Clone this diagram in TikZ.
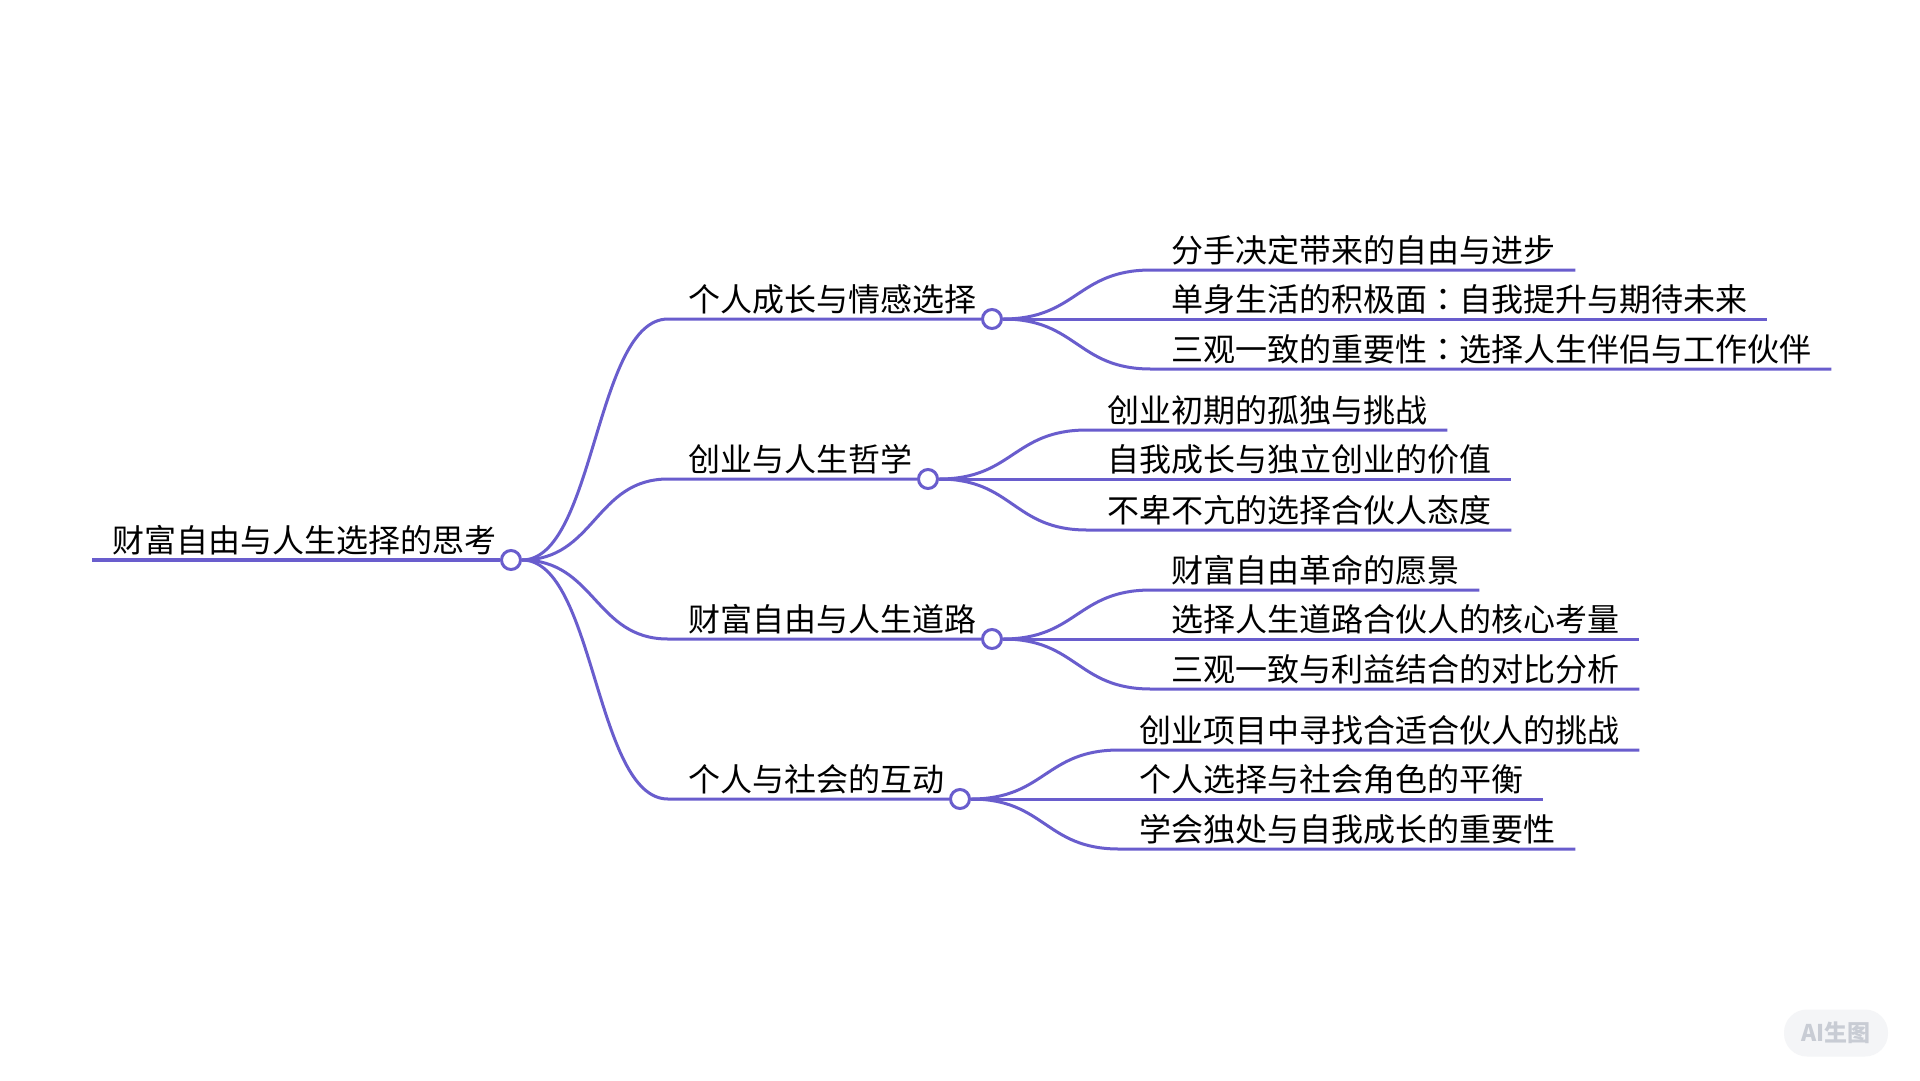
\documentclass[tikz,border=0pt]{standalone}
\usepackage{fontspec}
\setmainfont{Noto Sans CJK SC}
\newfontfamily\tcfont{Noto Sans CJK TC}
\newcommand{\midcolon}{{\tcfont ：}}
\definecolor{mapline}{RGB}{105, 93, 205}
\definecolor{marktext}{RGB}{200, 204, 212}
\definecolor{markfill}{RGB}{244, 245, 247}

\begin{document}
\begin{tikzpicture}[x=1pt, y=-1pt,
        topic/.style    = {anchor=base west, inner xsep=20pt, inner ysep=0pt, yshift=8pt, font=\fontsize{32}{38}\selectfont},
        knob/.style     = {circle, draw=mapline, fill=white, line width=3pt, minimum size=19pt, inner sep=0pt},
        trunk/.style    = {draw=mapline, line width=4pt},
        branch/.style   = {draw=mapline, line width=3pt},
        badgebox/.style = {fill=markfill, text=marktext, rounded corners=23pt, minimum width=104pt, minimum height=47pt, font=\bfseries\fontsize{23}{28}\selectfont}]
    \fill[white] (0,0) rectangle (1920,1080);
    \useasboundingbox (0,0) rectangle (1920,1080);

    % centre
    \coordinate (r0) at (92,560);
    \draw[trunk]  (r0) -- (500,560);
    \node[knob]   (root) at (511,560) {};
    \node[topic]  (roott) at (r0) {财富自由与人生选择的思考};

    % first level
    \coordinate (a0) at (668,319);
    \coordinate (b0) at (668,479);
    \coordinate (c0) at (668,639);
    \coordinate (d0) at (668,799);
    \node[knob]   (a) at (992,319) {};
    \node[knob]   (b) at (928,479) {};
    \node[knob]   (c) at (992,639) {};
    \node[knob]   (d) at (960,799) {};
    \draw[branch] (root.east) .. controls +(73,0) and +(-73,0) .. (a0) -- (a);
    \draw[branch] (root.east) .. controls +(73,0) and +(-73,0) .. (b0) -- (b);
    \draw[branch] (root.east) .. controls +(73,0) and +(-73,0) .. (c0) -- (c);
    \draw[branch] (root.east) .. controls +(73,0) and +(-73,0) .. (d0) -- (d);
    \node[topic]  (at) at (a0) {个人成长与情感选择};
    \node[topic]  (bt) at (b0) {创业与人生哲学};
    \node[topic]  (ct) at (c0) {财富自由与人生道路};
    \node[topic]  (dt) at (d0) {个人与社会的互动};

    % second level
    \coordinate (a1) at (1151,270);  \coordinate (a2) at (1151,319);  \coordinate (a3) at (1151,369);
    \coordinate (b1) at (1087,430);  \coordinate (b2) at (1087,479);  \coordinate (b3) at (1087,530);
    \coordinate (c1) at (1151,590);  \coordinate (c2) at (1151,639);  \coordinate (c3) at (1151,689);
    \coordinate (d1) at (1119,750);  \coordinate (d2) at (1119,799);  \coordinate (d3) at (1119,849);

    \node[topic]  (a1t) at (a1) {分手决定带来的自由与进步};
    \node[topic]  (a2t) at (a2) {单身生活的积极面\midcolon 自我提升与期待未来};
    \node[topic]  (a3t) at (a3) {三观一致的重要性\midcolon 选择人生伴侣与工作伙伴};
    \node[topic]  (b1t) at (b1) {创业初期的孤独与挑战};
    \node[topic]  (b2t) at (b2) {自我成长与独立创业的价值};
    \node[topic]  (b3t) at (b3) {不卑不亢的选择合伙人态度};
    \node[topic]  (c1t) at (c1) {财富自由革命的愿景};
    \node[topic]  (c2t) at (c2) {选择人生道路合伙人的核心考量};
    \node[topic]  (c3t) at (c3) {三观一致与利益结合的对比分析};
    \node[topic]  (d1t) at (d1) {创业项目中寻找合适合伙人的挑战};
    \node[topic]  (d2t) at (d2) {个人选择与社会角色的平衡};
    \node[topic]  (d3t) at (d3) {学会独处与自我成长的重要性};

    \draw[branch] (a.east) .. controls +(74,0) and +(-74,0) .. (a1) -- (a1 -| a1t.east);
    \draw[branch] (a.east) -- (a2) -- (a2 -| a2t.east);
    \draw[branch] (a.east) .. controls +(74,0) and +(-74,0) .. (a3) -- (a3 -| a3t.east);
    \draw[branch] (b.east) .. controls +(74,0) and +(-74,0) .. (b1) -- (b1 -| b1t.east);
    \draw[branch] (b.east) -- (b2) -- (b2 -| b2t.east);
    \draw[branch] (b.east) .. controls +(74,0) and +(-74,0) .. (b3) -- (b3 -| b3t.east);
    \draw[branch] (c.east) .. controls +(74,0) and +(-74,0) .. (c1) -- (c1 -| c1t.east);
    \draw[branch] (c.east) -- (c2) -- (c2 -| c2t.east);
    \draw[branch] (c.east) .. controls +(74,0) and +(-74,0) .. (c3) -- (c3 -| c3t.east);
    \draw[branch] (d.east) .. controls +(74,0) and +(-74,0) .. (d1) -- (d1 -| d1t.east);
    \draw[branch] (d.east) -- (d2) -- (d2 -| d2t.east);
    \draw[branch] (d.east) .. controls +(74,0) and +(-74,0) .. (d3) -- (d3 -| d3t.east);

    % corner badge
    \node[badgebox] (badge) at (1836,1033) {AI生图};
\end{tikzpicture}
\end{document}
